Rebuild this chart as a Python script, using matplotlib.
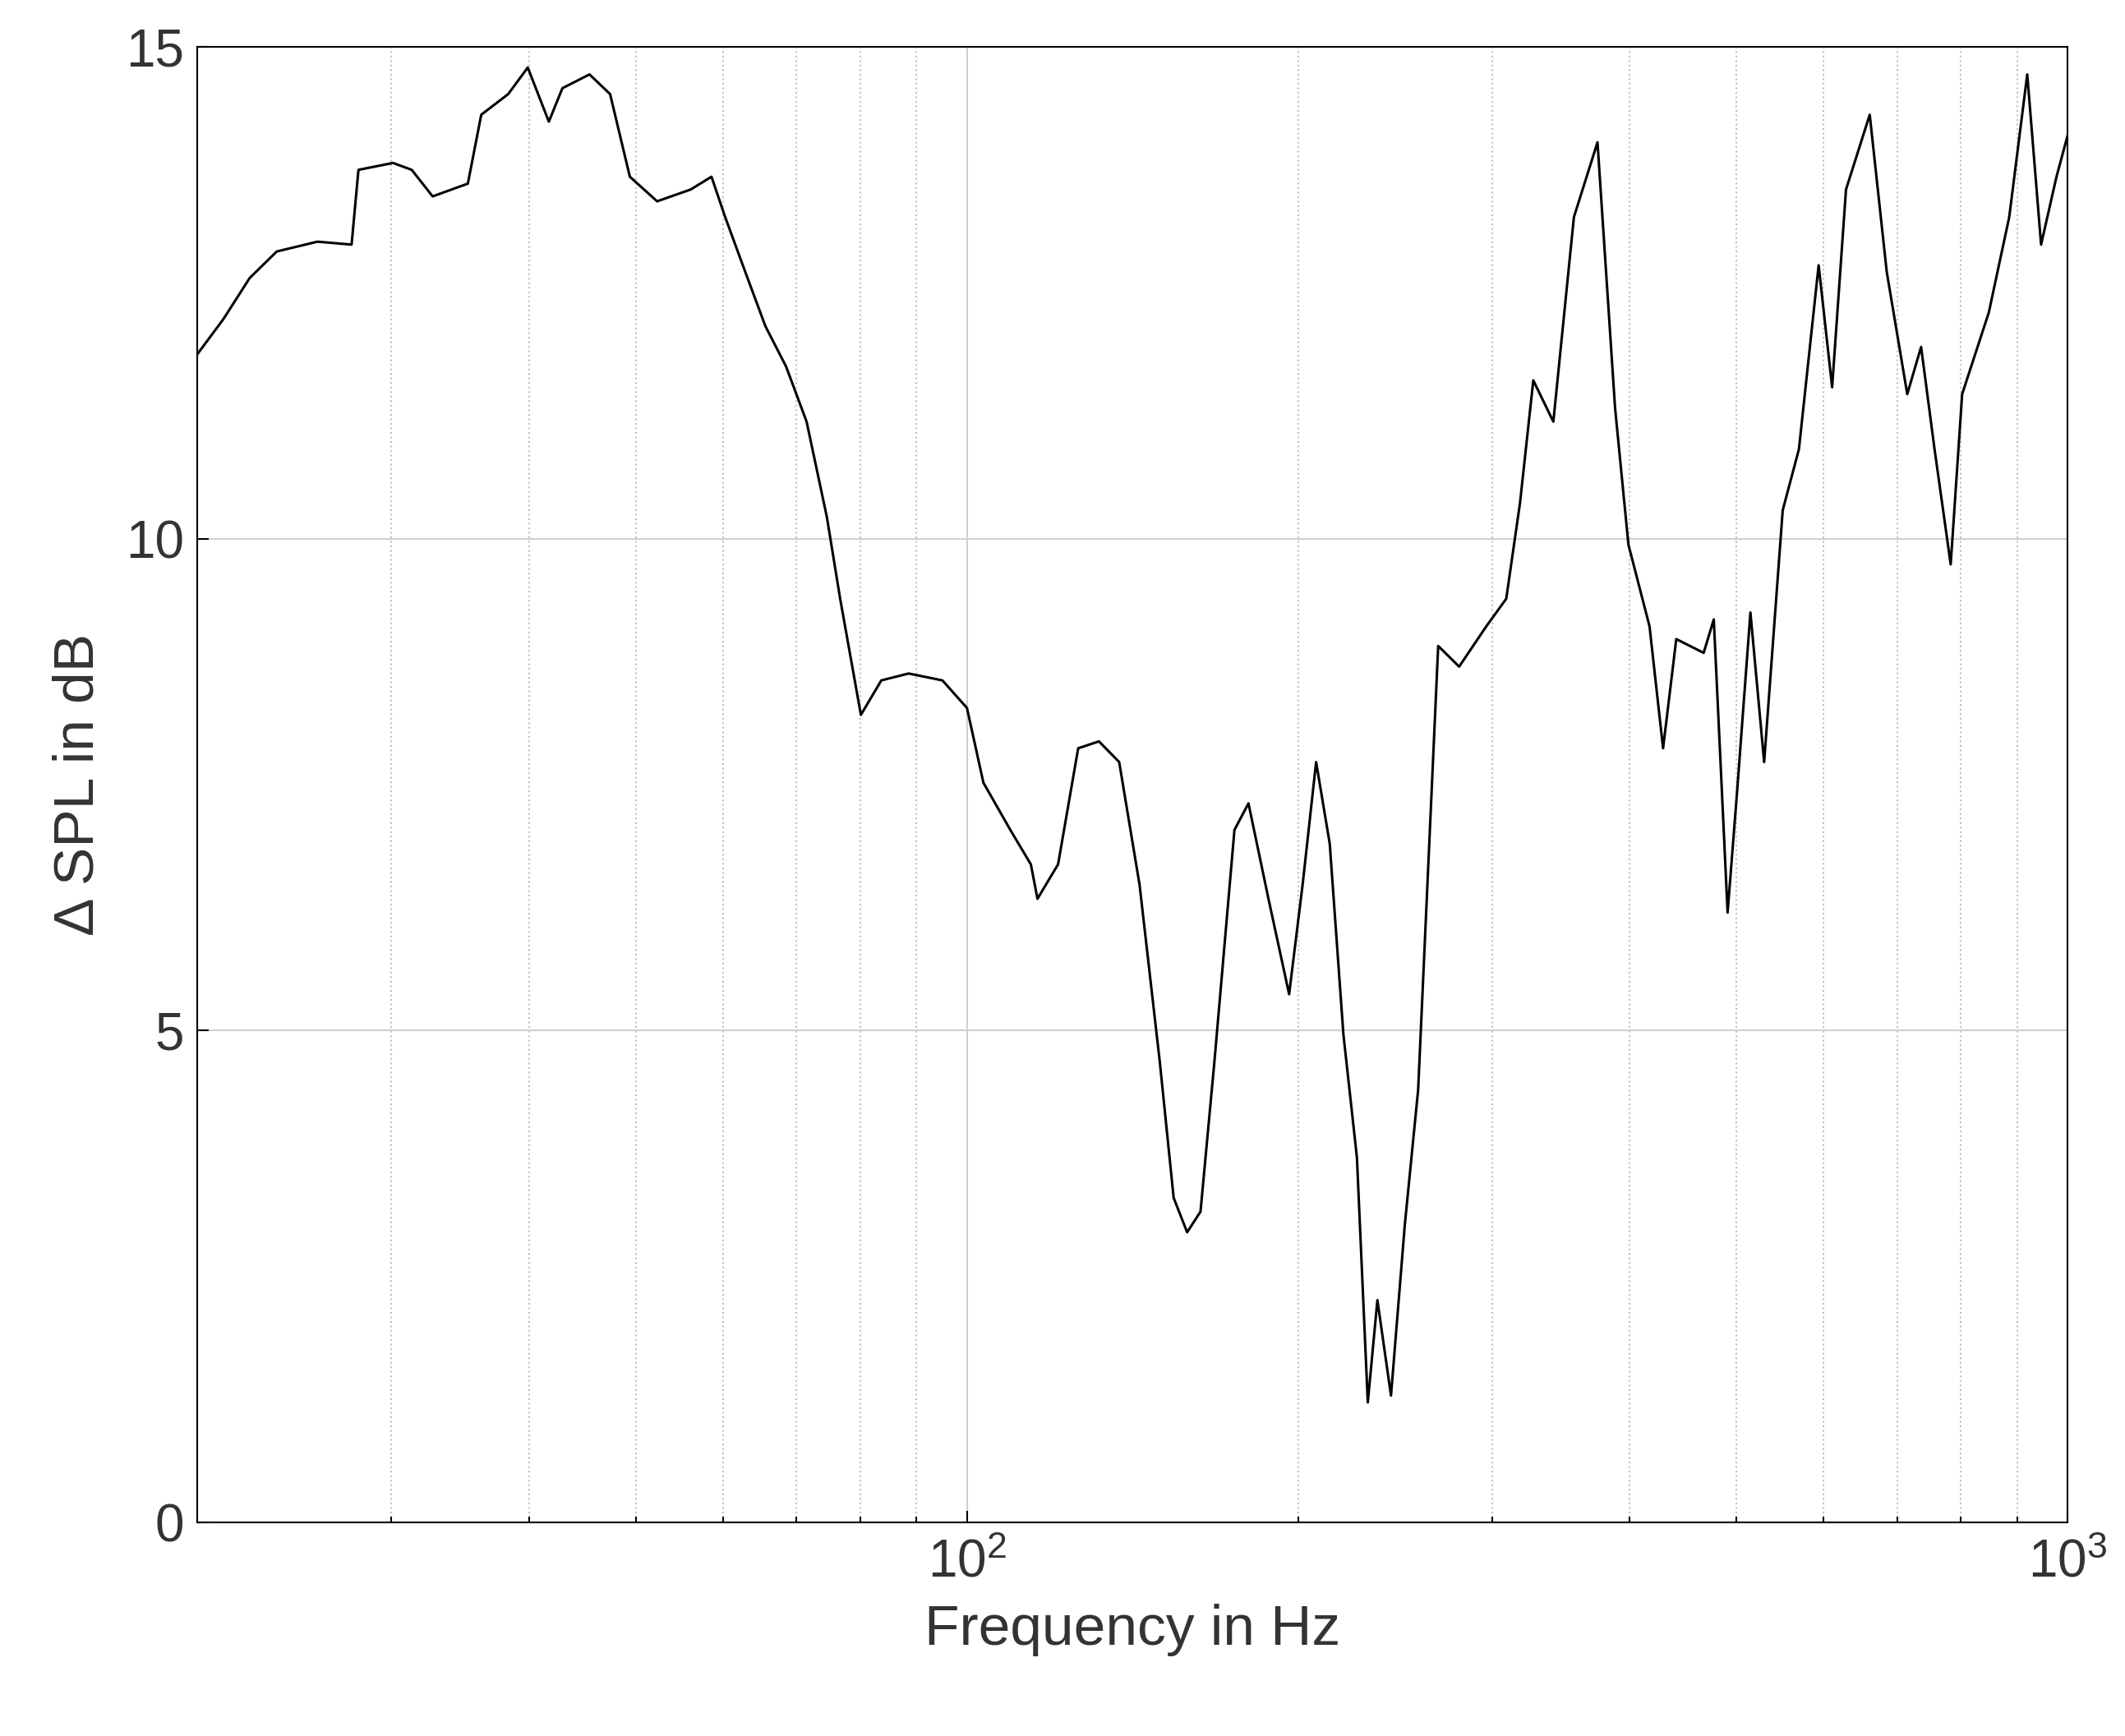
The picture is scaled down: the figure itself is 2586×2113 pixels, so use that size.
import matplotlib
matplotlib.use("Agg")
import matplotlib.pyplot as plt
from matplotlib.ticker import LogLocator, NullFormatter

plt.rcParams['font.family'] = ['Liberation Sans', 'DejaVu Sans']

freq_hz = [20, 21.1, 22.3, 23.6, 25.7, 27.6, 28.0, 30.1, 31.3, 32.7, 35.2, 36.2, 38.3, 39.9,
           41.7, 42.9, 45.4, 47.4, 49.4, 52.3, 56.1, 58.6, 60.3, 62.9, 65.6, 68.5, 71.5,
           74.6, 76.7, 80.1, 83.6, 88.5, 95.0, 100, 103.5, 109.5, 114.3, 115.9, 121, 126.2,
           131.8, 137.5, 143.5, 149.7, 154.1, 158.5, 163, 167.8, 175, 180.2, 187.9, 196.2,
           201.8, 207.6, 213.6, 219.8, 226.1, 231.3, 236, 242.8, 249.9, 257, 268, 280,
           296.4, 309, 318, 327, 341, 356, 374, 388, 399, 417, 429, 441, 467, 477, 491,
           501, 515, 530, 551, 570, 594, 611, 629, 661, 685, 715, 736, 757, 783, 802, 848,
           885, 919, 946, 977, 1000]
delta_spl_db = [11.88, 12.23, 12.65, 12.92, 13.02, 12.99, 13.75, 13.82, 13.75, 13.48, 13.61,
                14.31, 14.52, 14.79, 14.24, 14.58, 14.72, 14.52, 13.68, 13.43, 13.55, 13.68,
                13.27, 12.71, 12.16, 11.75, 11.19, 10.22, 9.39, 8.21, 8.56, 8.63, 8.56, 8.28,
                7.52, 7.04, 6.69, 6.34, 6.69, 7.87, 7.94, 7.73, 6.48, 4.68, 3.30, 2.95, 3.16,
                4.68, 7.04, 7.31, 6.34, 5.37, 6.48, 7.73, 6.90, 4.96, 3.71, 1.22, 2.26, 1.29,
                3.02, 4.40, 8.91, 8.70, 9.11, 9.39, 10.36, 11.61, 11.19, 13.27, 14.03, 11.33,
                9.94, 9.11, 7.87, 8.98, 8.84, 9.18, 6.20, 7.45, 9.25, 7.73, 10.29, 10.91,
                12.78, 11.54, 13.55, 14.31, 12.71, 11.47, 11.95, 10.91, 9.74, 11.47, 12.30,
                13.27, 14.72, 12.99, 13.68, 14.10]

fig = plt.figure(figsize=(25.86, 21.13), dpi=100)
ax = fig.add_axes([0.093, 0.123, 0.88, 0.85])
ax.plot(freq_hz, delta_spl_db, color='black', lw=2.2)
ax.set_xscale('log')
ax.set_xlim(20, 1000)
ax.set_ylim(0, 15)
ax.set_yticks([0, 5, 10, 15])
ax.xaxis.set_minor_locator(LogLocator(base=10, subs=range(2, 10)))
ax.xaxis.set_minor_formatter(NullFormatter())
ax.grid(True, which='major', color='#d0d0d0', lw=1.5)
ax.grid(True, which='minor', axis='x', color='#c0c0c0', lw=1.5, ls=':')
ax.tick_params(which='both', direction='in', labelsize=46, labelcolor='#333333',
               length=10, width=1.5)
ax.tick_params(which='minor', length=5)
ax.tick_params(axis='x', pad=14)
ax.tick_params(axis='y', pad=12)
for s in ax.spines.values():
    s.set_linewidth(1.5)
ax.set_xlabel('Frequency in Hz', fontsize=50, color='#333333', labelpad=14)
ax.set_ylabel('Δ SPL in dB', fontsize=50, color='#333333', labelpad=18)
fig.savefig('out.png')
